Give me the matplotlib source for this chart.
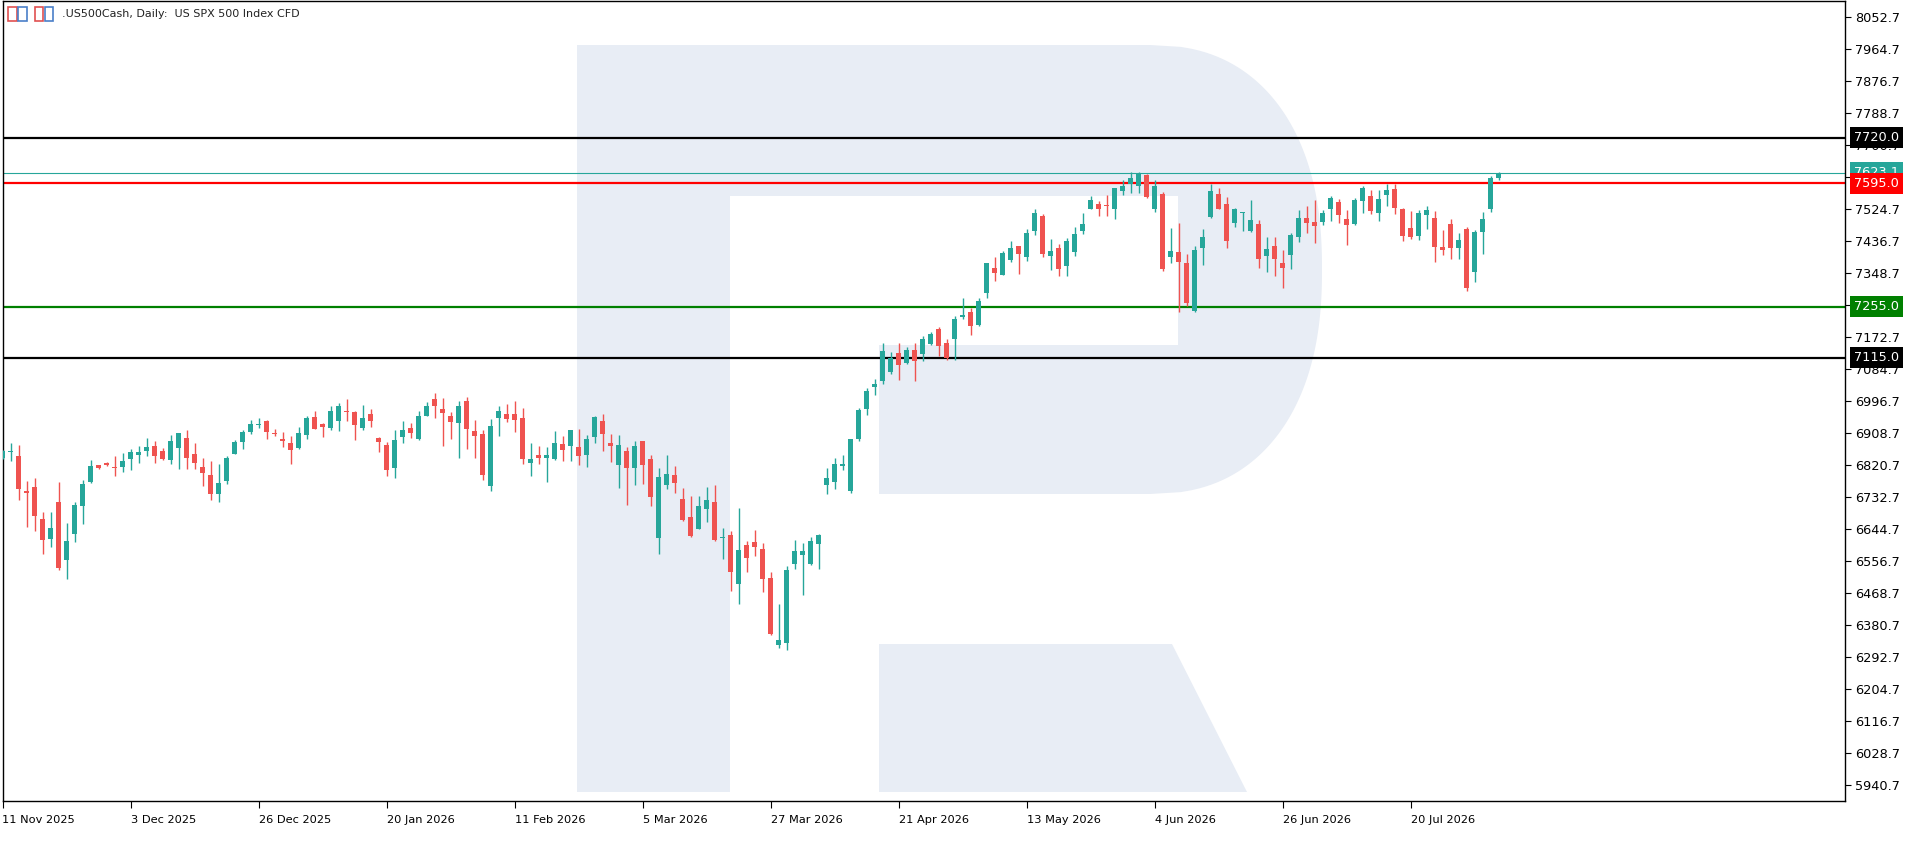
import numpy as np
import matplotlib
matplotlib.use("Agg")
import matplotlib.pyplot as plt
from matplotlib.patches import Polygon, Rectangle
from matplotlib.transforms import blended_transform_factory

# daily OHLC (bar index 0 = 11 Nov 2025)
opens = [
    6840, 6857, 6845, 6748, 6759, 6671, 6617, 6718, 6560, 6631,
    6708, 6774, 6820, 6825, 6814, 6815, 6837, 6848, 6859, 6872,
    6858, 6835, 6868, 6894, 6850, 6814, 6792, 6741, 6777, 6851,
    6884, 6912, 6931, 6941, 6909, 6891, 6880, 6867, 6903, 6952,
    6934, 6923, 6942, 6968, 6966, 6923, 6960, 6894, 6875, 6813,
    6898, 6922, 6891, 6956, 7001, 6974, 6955, 6936, 6996, 6913,
    6905, 6763, 6950, 6960, 6960, 6949, 6826, 6847, 6840, 6837,
    6878, 6873, 6869, 6848, 6898, 6941, 6880, 6821, 6858, 6813,
    6886, 6836, 6620, 6766, 6792, 6726, 6677, 6645, 6700, 6718,
    6620, 6627, 6494, 6600, 6608, 6589, 6509, 6326, 6331, 6549,
    6573, 6549, 6604, 6766, 6774, 6818, 6749, 6892, 6975, 7035,
    7052, 7077, 7128, 7101, 7136, 7126, 7154, 7194, 7155, 7167,
    7228, 7241, 7206, 7294, 7362, 7343, 7385, 7422, 7393, 7464,
    7505, 7396, 7417, 7368, 7407, 7464, 7525, 7538, 7535, 7525,
    7574, 7594, 7588, 7617, 7525, 7565, 7393, 7406, 7375, 7244,
    7418, 7503, 7565, 7538, 7486, 7512, 7464, 7483, 7396, 7422,
    7375, 7398, 7448, 7499, 7488, 7489, 7525, 7543, 7496, 7484,
    7547, 7560, 7514, 7563, 7579, 7524, 7472, 7451, 7508, 7499,
    7420, 7483, 7418, 7469, 7352, 7462, 7525, 7609,
]
highs = [
    6862, 6880, 6875, 6776, 6784, 6691, 6691, 6773, 6660, 6718,
    6779, 6834, 6821, 6828, 6845, 6853, 6864, 6872, 6894, 6886,
    6867, 6902, 6909, 6916, 6880, 6839, 6831, 6823, 6845, 6889,
    6916, 6944, 6949, 6944, 6919, 6911, 6900, 6924, 6955, 6968,
    6936, 6982, 6990, 7001, 6968, 6985, 6974, 6897, 6883, 6916,
    6941, 6935, 6969, 6993, 7018, 7004, 6966, 6996, 7007, 6944,
    6916, 6946, 6982, 6988, 6996, 6977, 6880, 6872, 6869, 6913,
    6900, 6917, 6919, 6902, 6955, 6960, 6905, 6902, 6869, 6886,
    6887, 6847, 6812, 6847, 6817, 6757, 6735, 6735, 6759, 6765,
    6647, 6639, 6702, 6612, 6642, 6605, 6527, 6438, 6542, 6614,
    6605, 6622, 6630, 6812, 6839, 6847, 6892, 6977, 7032, 7056,
    7155, 7131, 7155, 7144, 7155, 7175, 7186, 7199, 7166, 7230,
    7280, 7252, 7279, 7376, 7392, 7408, 7436, 7423, 7469, 7524,
    7510, 7441, 7428, 7444, 7474, 7513, 7560, 7546, 7562, 7582,
    7604, 7626, 7626, 7620, 7604, 7571, 7472, 7485, 7400, 7422,
    7469, 7593, 7582, 7557, 7527, 7516, 7549, 7494, 7447, 7447,
    7411, 7458, 7521, 7532, 7549, 7521, 7560, 7551, 7521, 7554,
    7587, 7576, 7576, 7593, 7593, 7527, 7518, 7521, 7532, 7518,
    7466, 7496, 7458, 7474, 7466, 7516, 7615, 7626,
]
lows = [
    6836, 6832, 6724, 6650, 6639, 6576, 6595, 6532, 6507, 6609,
    6659, 6771, 6810, 6818, 6791, 6802, 6807, 6826, 6846, 6826,
    6835, 6824, 6810, 6810, 6810, 6763, 6725, 6719, 6769, 6850,
    6865, 6906, 6923, 6892, 6899, 6870, 6824, 6865, 6892, 6919,
    6898, 6917, 6914, 6942, 6890, 6917, 6925, 6857, 6791, 6785,
    6881, 6895, 6889, 6955, 6950, 6873, 6892, 6840, 6865, 6840,
    6780, 6749, 6901, 6939, 6912, 6824, 6791, 6824, 6774, 6835,
    6832, 6832, 6821, 6815, 6881, 6859, 6829, 6758, 6711, 6766,
    6769, 6708, 6576, 6755, 6744, 6667, 6623, 6644, 6664, 6612,
    6562, 6474, 6439, 6527, 6571, 6472, 6353, 6318, 6312, 6535,
    6463, 6546, 6535, 6741, 6755, 6807, 6744, 6887, 6958, 7013,
    7044, 7071, 7055, 7099, 7052, 7107, 7151, 7121, 7110, 7110,
    7222, 7178, 7203, 7280, 7327, 7342, 7379, 7346, 7382, 7453,
    7393, 7357, 7341, 7341, 7396, 7456, 7524, 7506, 7506, 7497,
    7563, 7569, 7569, 7555, 7517, 7354, 7376, 7242, 7258, 7242,
    7371, 7500, 7524, 7418, 7475, 7464, 7462, 7363, 7352, 7341,
    7308, 7360, 7434, 7459, 7431, 7481, 7492, 7486, 7426, 7481,
    7514, 7511, 7492, 7533, 7511, 7437, 7442, 7440, 7470, 7379,
    7398, 7387, 7387, 7299, 7324, 7401, 7517, 7604,
]
closes = [
    6858, 6858, 6755, 6744, 6681, 6615, 6647, 6538, 6611, 6710,
    6768, 6817, 6813, 6821, 6813, 6831, 6856, 6856, 6869, 6846,
    6837, 6886, 6908, 6840, 6826, 6799, 6741, 6770, 6839, 6883,
    6911, 6933, 6934, 6912, 6904, 6887, 6862, 6908, 6949, 6920,
    6925, 6968, 6982, 6967, 6931, 6949, 6942, 6884, 6807, 6889,
    6916, 6909, 6955, 6982, 6983, 6964, 6939, 6982, 6920, 6901,
    6793, 6927, 6968, 6947, 6945, 6837, 6836, 6840, 6847, 6880,
    6862, 6916, 6846, 6891, 6952, 6906, 6873, 6875, 6813, 6872,
    6821, 6733, 6787, 6795, 6771, 6670, 6626, 6707, 6724, 6615,
    6623, 6527, 6586, 6565, 6595, 6507, 6355, 6339, 6531, 6583,
    6583, 6611, 6627, 6784, 6823, 6823, 6891, 6971, 7023, 7043,
    7133, 7114, 7096, 7136, 7107, 7166, 7180, 7148, 7115, 7221,
    7232, 7203, 7271, 7375, 7349, 7403, 7417, 7401, 7458, 7513,
    7401, 7408, 7360, 7436, 7455, 7483, 7549, 7525, 7533, 7582,
    7587, 7609, 7623, 7557, 7587, 7360, 7408, 7379, 7266, 7411,
    7447, 7573, 7525, 7437, 7524, 7514, 7494, 7387, 7414, 7387,
    7363, 7452, 7499, 7486, 7478, 7513, 7554, 7508, 7481, 7549,
    7582, 7519, 7551, 7576, 7528, 7451, 7448, 7513, 7521, 7420,
    7412, 7418, 7439, 7308, 7461, 7496, 7609, 7623.1,
]

date_bars = [0, 16, 32, 48, 64, 80, 96, 112, 128, 144, 160, 176]
date_labels = ["11 Nov 2025", "3 Dec 2025", "26 Dec 2025", "20 Jan 2026",
               "11 Feb 2026", "5 Mar 2026", "27 Mar 2026", "21 Apr 2026",
               "13 May 2026", "4 Jun 2026", "26 Jun 2026", "20 Jul 2026"]

price_ticks = [8052.7, 7964.7, 7876.7, 7788.7, 7700.7, 7612.7, 7524.7, 7436.7,
               7348.7, 7260.7, 7172.7, 7084.7, 6996.7, 6908.7, 6820.7, 6732.7,
               6644.7, 6556.7, 6468.7, 6380.7, 6292.7, 6204.7, 6116.7, 6028.7,
               5940.7]

# horizontal levels: (price, colour, line width)
levels = [(7720.0, "#000000", 1.6), (7623.1, "#26a69a", 0.8),
          (7595.0, "#ff0000", 1.6), (7255.0, "#008000", 1.6),
          (7115.0, "#000000", 1.6)]

TEAL = "#26a69a"
RED = "#ef5350"
W, H = 1908, 842

fig = plt.figure(figsize=(W / 100, H / 100), dpi=100)
ax = fig.add_axes([2.5 / W, 1 - 801 / H, (1845 - 2.5) / W, 800 / H])

# background watermark "R" (pixel coordinates of the picture)
def px(pts):
    return [(x / W, 1 - y / H) for x, y in pts]

WM = "#e8edf5"
t = np.linspace(-1, 1, 240)
bowl = [(1150 + 172 * (1 - np.abs(v) ** 2.3) ** (1 / 2.3), 269.5 + 224.5 * v) for v in t]
outer = [(577, 45)] + bowl + [(730, 494), (730, 792), (577, 792)]
ax.add_patch(Polygon(px(outer), closed=True, fc=WM, ec="none",
                     transform=fig.transFigure, zorder=0))
ax.add_patch(Polygon(px([(730, 196), (1178, 196), (1178, 345), (879, 345),
                         (879, 494), (730, 494)]), closed=True, fc="white",
                     ec="none", transform=fig.transFigure, zorder=0.1))
ax.add_patch(Polygon(px([(879, 644), (1172, 644), (1247, 792), (879, 792)]),
                     closed=True, fc=WM, ec="none", transform=fig.transFigure,
                     zorder=0))

# candles
o = np.array(opens, dtype=float)
h = np.array(highs, dtype=float)
l = np.array(lows, dtype=float)
c = np.array(closes, dtype=float)
x = np.arange(len(o))
cols = np.where(c >= o, TEAL, RED)
ax.vlines(x, l, h, colors=cols, linewidth=1.0, zorder=3)
ax.bar(x, np.maximum(np.abs(c - o), 2.75), bottom=np.minimum(o, c), width=0.625,
       color=cols, linewidth=0, zorder=4)

for price, col, lw in levels:
    ax.axhline(price, color=col, linewidth=lw, zorder=2)

ax.set_xlim(0, 230.3)
ax.set_ylim(5895.9, 8095.9)

ax.yaxis.tick_right()
ax.set_yticks(price_ticks)
ax.set_yticklabels([f"{v:.1f}" for v in price_ticks])
ax.tick_params(axis="y", length=4, width=0.8, pad=3, labelsize=9.3, colors="black")
ax.set_xticks(date_bars)
ax.set_xticklabels(date_labels)
ax.tick_params(axis="x", length=5, width=0.8, pad=5, labelsize=8.2)
for lab in ax.get_xticklabels():
    lab.set_horizontalalignment("left")
for s in ax.spines.values():
    s.set_linewidth(1.0)
    s.set_color("black")

# price tags on the right scale, laid over the tick labels beneath them
tr = blended_transform_factory(ax.transAxes, ax.transData)
for price, col, lw in levels:
    ax.annotate(f"{price:.1f}", xy=(1.0, price), xycoords=tr,
                xytext=(6.5, 0), textcoords="offset points",
                ha="left", va="center", fontsize=9.3, color="white",
                annotation_clip=False, zorder=10,
                bbox=dict(boxstyle="square,pad=0.32", fc=col, ec="none"))

# title with small toolbar icons
fig.add_artist(Rectangle((8 / W, 1 - 21 / H), 9 / W, 14 / H, fill=False,
                         ec="#e05050", lw=1.2, transform=fig.transFigure))
fig.add_artist(Rectangle((18 / W, 1 - 21 / H), 9 / W, 14 / H, fill=False,
                         ec="#4a7fc8", lw=1.2, transform=fig.transFigure))
fig.add_artist(Rectangle((35 / W, 1 - 21 / H), 8 / W, 14 / H, fill=False,
                         ec="#e05050", lw=1.2, transform=fig.transFigure))
fig.add_artist(Rectangle((45 / W, 1 - 21 / H), 8 / W, 14 / H, fill=False,
                         ec="#4a7fc8", lw=1.2, transform=fig.transFigure))
fig.text(62 / W, 1 - 14 / H, ".US500Cash, Daily:  US SPX 500 Index CFD",
         ha="left", va="center", fontsize=8.0, color="#222222")

fig.savefig("out.png", dpi=100, facecolor="white")
